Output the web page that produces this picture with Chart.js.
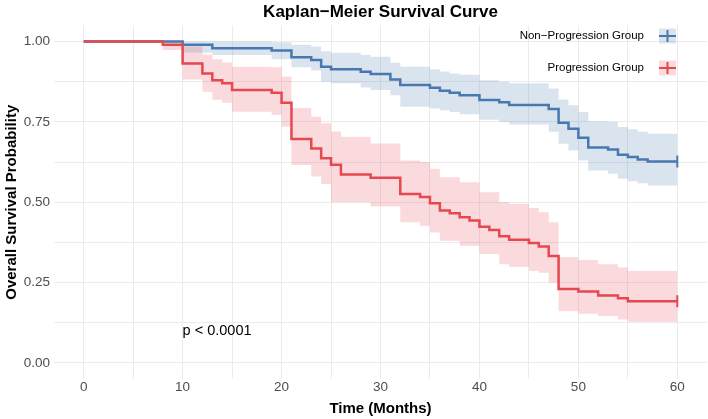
<!DOCTYPE html>
<html>
<head>
<meta charset="utf-8">
<title>Kaplan-Meier Survival Curve</title>
<script src="https://cdn.jsdelivr.net/npm/chart.js@4"></script>
<style>
    html, body { margin: 0; padding: 0; background: #fff; }
    #chart-wrap { width: 708px; height: 419px; position: relative; }
</style>
</head>
<body>
<div id="chart-wrap"><canvas id="kmChart"></canvas></div>
<script>
// --- Data ---
const groupNames = ['Non\u2212Progression Group', 'Progression Group'];

const xTickLabels = [0, 10, 20, 30, 40, 50, 60];
const yTickLabels = [0, 0.25, 0.5, 0.75, 1];

// Non-progression group (step times in months, survival, 95% CI)
const blueTimes = [0, 10, 13, 19, 21, 23, 24, 25, 28, 29, 31, 32, 35, 36, 37, 38, 40, 42, 43, 47, 48, 49, 50, 51, 53, 54, 55, 56, 57, 60];
const blueSurv = [1, 0.99, 0.979, 0.972, 0.951, 0.943, 0.922, 0.914, 0.906, 0.899, 0.882, 0.865, 0.856, 0.847, 0.841, 0.833, 0.818, 0.811, 0.803, 0.790, 0.747, 0.729, 0.701, 0.670, 0.664, 0.648, 0.641, 0.633, 0.627, 0.627];
const blueUpper = [1, 1, 1, 0.998, 0.99, 0.985, 0.97, 0.965, 0.958, 0.953, 0.934, 0.922, 0.914, 0.907, 0.901, 0.897, 0.88, 0.875, 0.87, 0.854, 0.82, 0.802, 0.781, 0.752, 0.75, 0.734, 0.727, 0.719, 0.713, 0.713];
const blueLower = [1, 0.965, 0.958, 0.945, 0.92, 0.91, 0.875, 0.87, 0.857, 0.849, 0.833, 0.797, 0.792, 0.786, 0.781, 0.774, 0.757, 0.75, 0.742, 0.719, 0.682, 0.661, 0.63, 0.599, 0.589, 0.573, 0.565, 0.559, 0.552, 0.552];

// Progression group
const redTimes = [0, 8, 10, 12, 13, 14, 15, 19, 20, 21, 23, 24, 25, 26, 29, 32, 34, 35, 36, 37, 38, 39, 40, 41, 42, 43, 45, 46, 47, 48, 50, 52, 54, 55, 60];
const redSurv = [1, 0.99, 0.932, 0.901, 0.880, 0.870, 0.849, 0.841, 0.81, 0.697, 0.667, 0.637, 0.617, 0.586, 0.576, 0.526, 0.516, 0.497, 0.474, 0.466, 0.453, 0.443, 0.424, 0.414, 0.394, 0.383, 0.373, 0.3625, 0.333, 0.23, 0.222, 0.21, 0.201, 0.192, 0.192];
const redUpper = [1, 1, 0.985, 0.96, 0.945, 0.935, 0.922, 0.92, 0.891, 0.793, 0.766, 0.746, 0.72, 0.704, 0.683, 0.63, 0.625, 0.604, 0.578, 0.578, 0.5625, 0.5625, 0.531, 0.531, 0.5, 0.495, 0.482, 0.469, 0.4375, 0.33, 0.32, 0.307, 0.297, 0.286, 0.286];
const redLower = [1, 0.974, 0.882, 0.844, 0.819, 0.81, 0.782, 0.772, 0.735, 0.616, 0.58, 0.557, 0.5, 0.5, 0.487, 0.4375, 0.427, 0.406, 0.38, 0.38, 0.365, 0.365, 0.339, 0.339, 0.307, 0.299, 0.286, 0.281, 0.25, 0.161, 0.153, 0.146, 0.135, 0.128, 0.128];

// Log-rank annotation: text and its position in data units
const pValueText = 'p < 0.0001';
const pValueAt = [10, 0.1];

// --- Styling ---
const BLUE = '#4878b0';
const RED = '#e5484f';
const BLUE_BAND = 'rgba(72, 120, 176, 0.2)';
const RED_BAND = 'rgba(229, 72, 79, 0.2)';
const GRID = '#ebebeb';
const FONT = '"Liberation Sans", Arial, Helvetica, sans-serif';

Chart.defaults.font.family = FONT;

/**
 * Zips a times array and a values array into {x, y} points.
 */
function toPoints(times, values) {
    return times.map((t, i) => ({ x: t, y: values[i] }));
}

/**
 * Builds the survival step line for one group, with a censor tick at the end.
 */
function survivalLine(times, values, color) {
    const last = times.length - 1;
    return {
        data: toPoints(times, values),
        borderColor: color,
        borderWidth: 2.5,
        stepped: true,
        fill: false,
        pointStyle: 'line',
        pointRotation: 90,
        pointRadius: ctx => (ctx.dataIndex === last ? 6 : 0),
        pointBorderWidth: 2,
        pointBorderColor: color,
        pointHitRadius: 0
    };
}

/**
 * Builds the upper / lower confidence band pair; the upper one fills down to the lower.
 */
function confidenceBand(times, upper, lower, fillColor) {
    const common = {
        borderWidth: 0,
        borderColor: 'transparent',
        pointRadius: 0,
        stepped: true
    };
    return [
        { ...common, data: toPoints(times, upper), fill: '+1', backgroundColor: fillColor },
        { ...common, data: toPoints(times, lower), fill: false }
    ];
}

/**
 * Draws the title, the p-value and the legend inside the panel.
 */
const annotationPlugin = {
    id: 'kmAnnotations',
    afterDraw(chart) {
        const { ctx, chartArea, scales } = chart;
        ctx.save();

        // Title, centred on the panel
        ctx.fillStyle = '#000';
        ctx.font = 'bold 17px ' + FONT;
        ctx.textAlign = 'center';
        ctx.textBaseline = 'middle';
        ctx.fillText('Kaplan\u2212Meier Survival Curve', (chartArea.left + chartArea.right) / 2, 12);

        // p-value
        ctx.font = '14.5px ' + FONT;
        ctx.textAlign = 'left';
        ctx.fillText(pValueText, scales.x.getPixelForValue(pValueAt[0]), scales.y.getPixelForValue(pValueAt[1]));

        // Legend (top right, inside the panel)
        const colors = [BLUE, RED];
        const bands = [BLUE_BAND, RED_BAND];
        ctx.font = '11.5px ' + FONT;
        ctx.textAlign = 'right';
        groupNames.forEach((name, i) => {
            const cy = chartArea.top + 10.5 + i * 32;
            const kx = chartArea.right - 48;
            ctx.fillStyle = '#000';
            ctx.fillText(name, chartArea.right - 63, cy);

            ctx.fillStyle = bands[i];
            ctx.fillRect(kx, cy - 7.5, 17, 15);

            ctx.strokeStyle = colors[i];
            ctx.lineWidth = 2;
            ctx.beginPath();
            ctx.moveTo(kx, cy);
            ctx.lineTo(kx + 17, cy);
            ctx.moveTo(kx + 8.5, cy - 6);
            ctx.lineTo(kx + 8.5, cy + 6);
            ctx.stroke();
        });

        ctx.restore();
    }
};

/**
 * Sets up the Kaplan-Meier chart.
 */
function initializeChart() {
    const canvas = document.getElementById('kmChart');

    const datasets = [
        survivalLine(redTimes, redSurv, RED),
        survivalLine(blueTimes, blueSurv, BLUE),
        ...confidenceBand(redTimes, redUpper, redLower, RED_BAND),
        ...confidenceBand(blueTimes, blueUpper, blueLower, BLUE_BAND)
    ];

    new Chart(canvas, {
        type: 'line',
        data: { datasets },
        plugins: [annotationPlugin],
        options: {
            responsive: true,
            maintainAspectRatio: false,
            devicePixelRatio: 1,
            animation: false,
            events: [],
            layout: { autoPadding: false, padding: { top: 25.5, right: 1, left: 0, bottom: 0 } },
            plugins: {
                legend: { display: false },
                tooltip: { enabled: false },
                filler: { drawTime: 'beforeDatasetsDraw' }
            },
            scales: {
                x: {
                    type: 'linear',
                    min: -3,
                    max: 63,
                    afterBuildTicks: axis => {
                        const ticks = [];
                        for (let v = xTickLabels[0]; v <= xTickLabels[xTickLabels.length - 1]; v += 5) {
                            ticks.push({ value: v });
                        }
                        axis.ticks = ticks;
                    },
                    afterFit: scale => { scale.height = 40; },
                    border: { display: false },
                    grid: { color: GRID, lineWidth: 1, drawTicks: false },
                    ticks: {
                        autoSkip: false,
                        maxRotation: 0,
                        padding: 0,
                        color: '#4d4d4d',
                        font: { size: 13.5 },
                        callback: value => (xTickLabels.includes(value) ? String(value) : '')
                    },
                    title: {
                        display: true,
                        text: 'Time (Months)',
                        color: '#000',
                        font: { size: 15, weight: 'bold' },
                        padding: { top: 0, bottom: 1 }
                    }
                },
                y: {
                    type: 'linear',
                    min: -0.05,
                    max: 1.05,
                    afterBuildTicks: axis => {
                        const ticks = [];
                        for (let v = 0; v <= 1; v += 0.125) {
                            ticks.push({ value: v });
                        }
                        axis.ticks = ticks;
                    },
                    afterFit: scale => { scale.width = 54; },
                    border: { display: false },
                    grid: { color: GRID, lineWidth: 1, drawTicks: false },
                    ticks: {
                        autoSkip: false,
                        padding: 4,
                        color: '#4d4d4d',
                        font: { size: 13.5 },
                        callback: value => (yTickLabels.includes(value) ? value.toFixed(2) : '')
                    },
                    title: {
                        display: true,
                        text: 'Overall Survival Probability',
                        color: '#000',
                        font: { size: 15, weight: 'bold' },
                        padding: { top: 3, bottom: 0 }
                    }
                }
            }
        }
    });
}

document.addEventListener('DOMContentLoaded', initializeChart);
</script>
</body>
</html>
